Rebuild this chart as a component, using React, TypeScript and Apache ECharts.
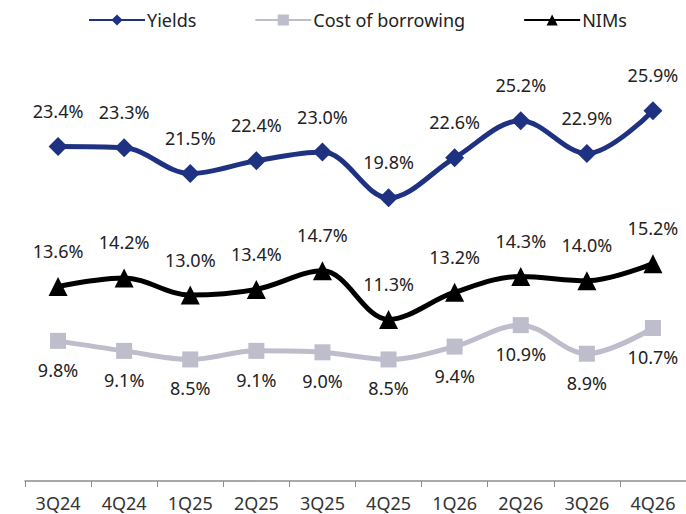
import React, { useEffect, useRef } from "react";
import * as echarts from "echarts";

const categories = ["3Q24", "4Q24", "1Q25", "2Q25", "3Q25", "4Q25", "1Q26", "2Q26", "3Q26", "4Q26"];
const yields = [23.4, 23.3, 21.5, 22.4, 23.0, 19.8, 22.6, 25.2, 22.9, 25.9];
const costOfBorrowing = [9.8, 9.1, 8.5, 9.1, 9.0, 8.5, 9.4, 10.9, 8.9, 10.7];
const nims = [13.6, 14.2, 13.0, 13.4, 14.7, 11.3, 13.2, 14.3, 14.0, 15.2];

const FONT = "'Noto Sans', sans-serif";

export default function App() {
  const ref = useRef<HTMLDivElement>(null);
  useEffect(() => {
    if (!ref.current) return;
    const chart = echarts.init(ref.current, undefined, { renderer: "svg" });
    const label = (pos: string, distance: number) => ({
      show: true,
      position: pos,
      distance,
      fontSize: 18,
      fontFamily: FONT,
      color: "#222",
      formatter: (p: any) => p.value.toFixed(1) + "%",
    });
    chart.setOption({
      animation: false,
      textStyle: { fontFamily: FONT },
      legend: {
        top: 6,
        left: 83,
        itemWidth: 56,
        itemHeight: 14,
        itemGap: 58,
        textStyle: { fontSize: 18, fontFamily: FONT, color: "#222", padding: [0, 0, 0, -3] },
        data: ["Yields", "Cost of borrowing", "NIMs"],
      },
      grid: { left: 25, right: -1, top: 52, bottom: 33, containLabel: false },
      xAxis: {
        type: "category",
        data: categories,
        boundaryGap: true,
        axisLine: { lineStyle: { color: "#8c8c8c", width: 1.5 } },
        axisTick: { show: true, length: 6, lineStyle: { color: "#8c8c8c" } },
        axisLabel: { fontSize: 18, fontFamily: FONT, color: "#333", margin: 13 },
      },
      yAxis: {
        type: "value",
        min: 0,
        max: 30,
        show: false,
        splitLine: { show: false },
      },
      series: [
        {
          name: "Yields",
          type: "line",
          data: yields,
          smooth: 0.35,
          symbol: "diamond",
          symbolSize: 19,
          lineStyle: { color: "#1f3282", width: 5 },
          itemStyle: { color: "#1f3282" },
          label: label("top", 17),
        },
        {
          name: "Cost of borrowing",
          type: "line",
          data: costOfBorrowing,
          smooth: 0.35,
          symbol: "rect",
          symbolSize: 16,
          lineStyle: { color: "#bdbdcc", width: 5 },
          itemStyle: { color: "#bdbdcc" },
          label: label("bottom", 12),
        },
        {
          name: "NIMs",
          type: "line",
          data: nims,
          smooth: 0.35,
          symbol: "triangle",
          symbolSize: 19,
          lineStyle: { color: "#000000", width: 5 },
          itemStyle: { color: "#000000" },
          label: label("top", 17),
        },
      ],
    });
    return () => chart.dispose();
  }, []);
  return (
    <div
      ref={ref}
      style={{ position: "fixed", left: 0, top: 0, width: 686, height: 514, background: "#fff" }}
    />
  );
}
